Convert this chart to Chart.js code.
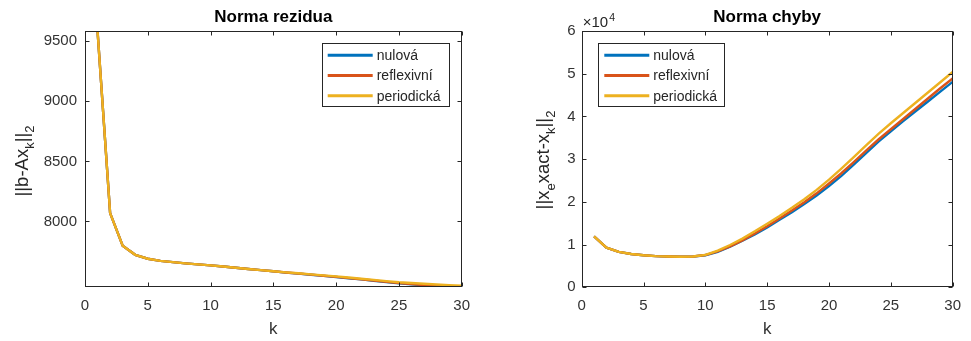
<!DOCTYPE html>
<html>
<head>
<meta charset="utf-8">
<script src="https://cdn.jsdelivr.net/npm/chart.js@4.4.0/dist/chart.umd.min.js"></script>
<style>
html, body { margin: 0; padding: 0; background: #fff; }
#wrap { position: relative; width: 971px; height: 341px; }
.pane { position: absolute; top: 0; height: 341px; }
</style>
</head>
<body>
<div id="wrap">
  <div class="pane" style="left:0;width:485px"><canvas id="rezChart" width="485" height="341"></canvas></div>
  <div class="pane" style="left:485px;width:486px"><canvas id="chybChart" width="486" height="341"></canvas></div>
</div>
<script>
// iterace k
const kVals = [1, 2, 3, 4, 5, 6, 7, 8, 9, 10, 11, 12, 13, 14, 15, 16, 17, 18, 19, 20, 21, 22, 23, 24, 25, 26, 27, 28, 29, 30];
const seriesNames = ['nulová', 'reflexivní', 'periodická'];

// Norma rezidua ||b - A x_k||_2
const rezNulova = [9583, 8070, 7798, 7723, 7690, 7672, 7662, 7652, 7643, 7635, 7625, 7615, 7605, 7595, 7586,
  7575, 7566, 7557, 7548, 7538, 7528, 7518, 7507, 7497, 7486, 7478, 7470, 7464, 7459, 7455];
const rezReflex = [9583, 8070, 7798, 7723, 7690, 7672, 7662, 7652, 7643, 7635, 7625, 7615, 7605, 7595, 7586,
  7576, 7567, 7558, 7549, 7539, 7529, 7519, 7509, 7498, 7487, 7479, 7471, 7465, 7460, 7456];
const rezPeriod = [9583, 8070, 7798, 7723, 7690, 7672, 7662, 7652, 7643, 7635, 7625, 7615, 7605, 7595, 7586,
  7577, 7569, 7560, 7552, 7543, 7534, 7524, 7514, 7504, 7494, 7488, 7482, 7476, 7471, 7466];

// Norma chyby ||x_exact - x_k||_2
const chybNulova = [11900, 9300, 8300, 7800, 7500, 7300, 7200, 7150, 7200, 7500, 8300, 9500, 10900, 12400, 14000,
  15800, 17600, 19500, 21500, 23700, 26100, 28700, 31400, 34100, 36500, 38900, 41200, 43500, 45800, 48100];
const chybReflex = [11900, 9300, 8300, 7800, 7500, 7300, 7200, 7150, 7200, 7550, 8400, 9600, 11000, 12600, 14300,
  16100, 18000, 19900, 22000, 24300, 26700, 29300, 32000, 34600, 37000, 39400, 41800, 44200, 46600, 48900];
const chybPeriod = [11900, 9300, 8300, 7800, 7500, 7300, 7200, 7150, 7200, 7600, 8600, 9900, 11400, 13100, 14900,
  16700, 18600, 20600, 22800, 25200, 27800, 30500, 33200, 35900, 38400, 40800, 43200, 45600, 48000, 50400];

// osy
const xTicks = [0, 5, 10, 15, 20, 25, 30];
const rezYTicks = [8000, 8500, 9000, 9500];
const chybYTicks = [0, 10000, 20000, 30000, 40000, 50000, 60000];

const FONT = '"Liberation Sans", Arial, Helvetica, sans-serif';
const AXIS = '#262626';
const colors = ['#0072BD', '#D95319', '#EDB120'];

function textRun(ctx, parts, size, subSize, draw) {
  let x = 0;
  parts.forEach(p => {
    ctx.font = (p.sub ? subSize : size) + 'px ' + FONT;
    if (draw) ctx.fillText(p.t, draw.x + x, draw.y + (p.sub ? 6 : 0));
    x += ctx.measureText(p.t).width;
  });
  return x;
}

// MATLAB-like box, inner ticks, title, y label and legend
const matlabAxes = {
  id: 'matlabAxes',
  afterDatasetsDraw(chart, args, opts) {
    const { ctx, chartArea: a, scales: { x, y } } = chart;
    ctx.save();
    ctx.strokeStyle = AXIS;
    ctx.lineWidth = 1;
    const L = Math.round(a.left) + 0.5, R = Math.round(a.right) - 0.5;
    const T = Math.round(a.top) + 0.5, B = Math.round(a.bottom) - 0.5;
    ctx.strokeRect(L, T, R - L, B - T);
    ctx.beginPath();
    x.ticks.forEach(t => {
      const px = Math.round(x.getPixelForValue(t.value)) + 0.5;
      ctx.moveTo(px, B); ctx.lineTo(px, B - 4);
      ctx.moveTo(px, T); ctx.lineTo(px, T + 4);
    });
    y.ticks.forEach(t => {
      const py = Math.round(y.getPixelForValue(t.value)) + 0.5;
      ctx.moveTo(L, py); ctx.lineTo(L + 4, py);
      ctx.moveTo(R, py); ctx.lineTo(R - 4, py);
    });
    ctx.stroke();

    // title
    ctx.fillStyle = '#000';
    ctx.font = 'bold 17px ' + FONT;
    ctx.textAlign = 'center';
    ctx.textBaseline = 'alphabetic';
    ctx.fillText(opts.title, (a.left + a.right) / 2, 22);

    // y label with subscripts
    ctx.fillStyle = AXIS;
    ctx.textAlign = 'left';
    const w = textRun(ctx, opts.ylabel, 18.5, 13, null);
    ctx.save();
    ctx.translate(opts.ylabelX, opts.ylabelY);
    ctx.rotate(-Math.PI / 2);
    textRun(ctx, opts.ylabel, 18.5, 13, { x: -w / 2, y: 0 });
    ctx.restore();

    // exponent
    if (opts.exponent) {
      ctx.font = '15px ' + FONT;
      ctx.fillText('×10', a.left + 1, 27);
      const ew = ctx.measureText('×10').width;
      ctx.font = '10.5px ' + FONT;
      ctx.fillText(opts.exponent, a.left + 1 + ew + 1, 21);
    }

    // legend
    const lg = opts.legend;
    ctx.fillStyle = '#fff';
    ctx.fillRect(lg.x, lg.y, lg.w, lg.h);
    ctx.strokeStyle = AXIS;
    ctx.lineWidth = 1;
    ctx.strokeRect(Math.round(lg.x) + 0.5, Math.round(lg.y) + 0.5, Math.round(lg.w), Math.round(lg.h));
    ctx.font = '14px ' + FONT;
    ctx.textBaseline = 'middle';
    chart.data.datasets.forEach((ds, i) => {
      const ry = lg.y + 12.5 + i * 20.3;
      ctx.strokeStyle = ds.borderColor;
      ctx.lineWidth = 3;
      ctx.beginPath();
      ctx.moveTo(lg.x + 6, ry);
      ctx.lineTo(lg.x + 51, ry);
      ctx.stroke();
      ctx.fillStyle = AXIS;
      ctx.fillText(ds.label, lg.x + 55, ry + 1);
    });
    ctx.restore();
  }
};

function makeDatasets(lists) {
  return lists.map((vals, i) => ({
    label: seriesNames[i],
    data: kVals.map((k, j) => ({ x: k, y: vals[j] })),
    borderColor: colors[i],
    backgroundColor: colors[i],
    borderWidth: 2.4,
    pointRadius: 0,
    tension: 0,
    order: 2 - i
  }));
}

function makeChart(id, cfg) {
  return new Chart(document.getElementById(id), {
    type: 'line',
    plugins: [matlabAxes],
    data: { datasets: makeDatasets(cfg.series) },
    options: {
      responsive: false,
      animation: false,
      events: [],
      layout: { padding: cfg.padding },
      scales: {
        x: {
          type: 'linear',
          min: 0,
          max: 30,
          afterBuildTicks: s => { s.ticks = xTicks.map(v => ({ value: v })); },
          afterFit: s => { s.height = cfg.xHeight; },
          grid: { display: false, drawTicks: false },
          border: { display: false },
          ticks: { color: '#333', padding: 10, maxRotation: 0, font: { family: FONT, size: 15 } },
          title: { display: true, text: 'k', color: '#333', padding: { top: 0, bottom: 1 }, font: { family: FONT, size: 17 } }
        },
        y: {
          type: 'linear',
          min: cfg.yMin,
          max: cfg.yMax,
          afterBuildTicks: s => { s.ticks = cfg.yTicks.map(v => ({ value: v })); },
          afterFit: s => { s.width = cfg.yWidth; },
          grid: { display: false, drawTicks: false },
          border: { display: false },
          ticks: { color: '#333', padding: cfg.yPad, font: { family: FONT, size: 15 }, callback: cfg.yFormat }
        }
      },
      plugins: {
        legend: { display: false },
        tooltip: { enabled: false },
        matlabAxes: cfg.deco
      }
    }
  });
}

makeChart('rezChart', {
  series: [rezNulova, rezReflex, rezPeriod],
  padding: { left: 0, top: 31, right: 23.3, bottom: 0 },
  xHeight: 54,
  yWidth: 85,
  yPad: 8,
  yMin: 7455,
  yMax: 9585,
  yTicks: rezYTicks,
  yFormat: v => String(v),
  deco: {
    title: 'Norma rezidua',
    ylabel: [{ t: '||b-Ax' }, { t: 'k', sub: true }, { t: '||' }, { t: '2', sub: true }],
    ylabelX: 28,
    ylabelY: 161,
    legend: { x: 321.7, y: 42.7, w: 126.6, h: 62.6 }
  }
});

makeChart('chybChart', {
  series: [chybNulova, chybReflex, chybPeriod],
  padding: { left: 0, top: 31, right: 11.7, bottom: 0 },
  xHeight: 53.7,
  yWidth: 96.7,
  yPad: 6,
  yMin: 0,
  yMax: 60000,
  yTicks: chybYTicks,
  yFormat: v => String(v / 10000),
  deco: {
    title: 'Norma chyby',
    ylabel: [{ t: '||x' }, { t: 'e', sub: true }, { t: 'xact-x' }, { t: 'k', sub: true }, { t: '||' }, { t: '2', sub: true }],
    ylabelX: 64,
    ylabelY: 160,
    exponent: '4',
    legend: { x: 113.3, y: 42.7, w: 125.7, h: 62.6 }
  }
});
</script>
</body>
</html>
